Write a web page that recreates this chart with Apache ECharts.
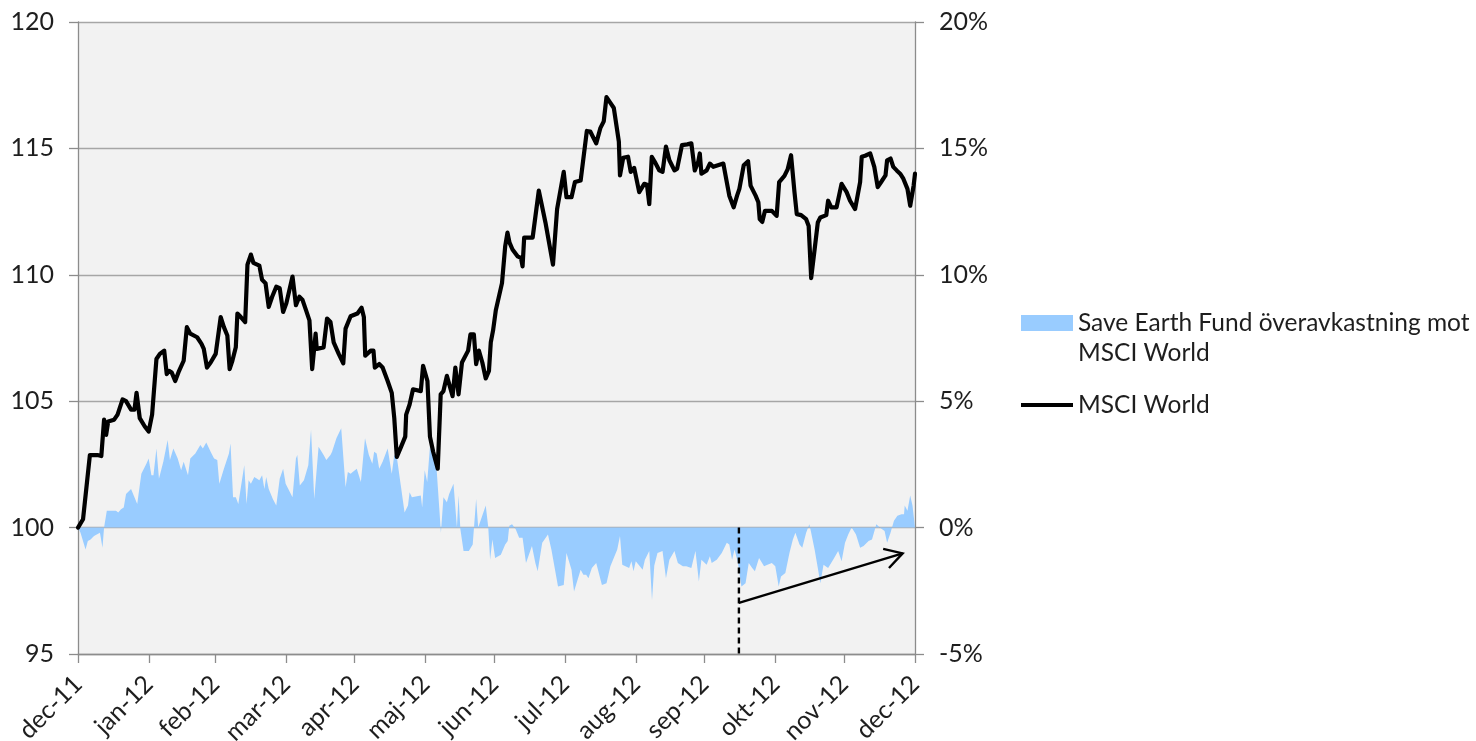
<!DOCTYPE html>
<html><head><meta charset="utf-8">
<script src="https://cdn.jsdelivr.net/npm/echarts@6/dist/echarts.min.js"></script>
<style>html,body{margin:0;padding:0;background:#fff}#c{width:1476px;height:741px}</style>
</head><body><div id="c"></div>
<script>
// x values are days counted from 2011-12-31
const startDate = '2011-12-31';
const tickDates = ['2011-12-31','2012-01-31','2012-02-29','2012-03-31','2012-04-30','2012-05-31','2012-06-30','2012-07-31','2012-08-31','2012-09-30','2012-10-31','2012-11-30','2012-12-31'];
const tickLabels = ['dec-11','jan-12','feb-12','mar-12','apr-12','maj-12','jun-12','jul-12','aug-12','sep-12','okt-12','nov-12','dec-12'];

const msciName = 'MSCI World';
const msciDay = [0,2.2,5.2,8.5,10.2,11.4,12.3,13.2,15.8,17.3,19.5,21.0,23.2,24.7,25.6,27.0,29.2,30.9,32.4,34.3,35.8,37.7,38.8,39.8,41.0,42.5,44.2,46.2,47.6,49.1,52.1,54.0,55.0,56.4,58.0,60.2,62.4,
63.8,65.3,66.3,67.5,69.0,69.7,71.2,73.1,74.1,75.6,76.7,79.3,80.5,82.0,83.4,84.9,86.7,88.2,89.7,91.1,93.8,95.3,96.8,98.2,99.7,101.2,102.4,103.9,104.4,107.4,108.9,110.4,111.8,114.0,116.0,117.0,119.2,122.2,124.0,125.0,125.6,
128.0,129.2,129.8,131.7,133.2,135.4,137.2,138.3,139.4,141.3,143.1,143.5,145.0,146.5,149.9,150.9,152.8,153.9,155.3,157.3,158.6,159.8,161.3,163.8,165.0,166.4,167.9,170.6,171.6,173.1,174.1,175.3,176.8,178.3,179.7,180.5,181.5,182.7,185.4,186.8,187.8,188.7,
190.0,192.2,193.7,194.4,195.1,198.8,201.5,204.4,207.7,209.5,212.4,213.6,215.8,217.3,219.8,222.5,224.0,226.6,228.4,229.9,231.1,232.8,234.3,236.5,237.0,238.4,240.5,241.7,243.2,245.4,247.6,248.8,249.8,250.9,252.2,
254.2,255.6,257.1,258.6,260.8,262.0,264.1,266.4,268.2,269.7,271.2,271.9,272.6,274.9,276.3,277.8,282.2,283.7,284.8,286.7,288.2,289.2,291.1,293.0,294.1,296.3,297.5,298.1,299.2,300.4,303.4,305.5,306.6,308.9,310.3,311.8,313.3,314.3,316.2,
318.4,319.5,320.6,322.1,323.5,324.6,327.2,328.0,328.7,329.4,331.7,333.9,334.6,336.1,337.6,339.8,342.0,342.7,344.2,346.4,348.2,349.7,351.2,353.1,353.8,355.3,356.5,358.0,359.5,360.9,362.7,363.9,365.4,366.0];
const msciValue = [100,100.33,102.87,102.87,102.83,104.27,103.67,104.2,104.27,104.47,105.07,105.0,104.67,104.67,105.33,104.33,104.0,103.8,104.47,106.67,106.87,107.0,106.07,106.2,106.13,105.8,106.2,106.6,107.93,107.67,107.53,107.27,107.07,106.33,106.53,106.87,108.33,
107.93,107.6,106.27,106.6,107.13,108.47,108.33,108.13,110.4,110.8,110.47,110.36,109.8,109.67,108.73,109.13,109.53,109.47,108.53,108.87,109.93,108.8,109.13,109.0,108.6,108.2,106.27,107.67,107.07,107.13,108.27,108.13,107.33,106.87,106.5,107.87,108.36,108.47,108.7,108.33,106.8,
107.0,107.0,106.33,106.47,106.33,105.8,105.33,104.33,102.8,103.2,103.6,104.47,104.87,105.47,105.4,106.4,105.8,103.6,103.0,102.33,105.27,105.4,106.0,105.2,106.33,105.27,106.53,107.0,107.64,107.64,106.47,107.0,106.53,105.9,106.2,107.33,107.8,108.6,109.67,111.13,111.67,111.27,
111.0,110.73,110.67,110.33,111.47,111.47,113.33,112.07,110.4,112.6,114.07,113.07,113.07,113.67,113.73,115.69,115.67,115.2,115.8,116.07,117.03,116.8,116.6,115.27,113.93,114.63,114.67,114.07,114.23,113.27,113.6,113.56,112.8,114.67,114.47,
114.13,114.07,115.07,114.53,114.13,114.2,115.13,115.16,115.2,114.13,114.47,114.8,114.0,114.13,114.4,114.27,114.4,113.67,113.13,112.67,113.13,113.4,114.33,114.49,113.53,113.13,112.87,112.2,112.09,112.53,112.53,112.33,113.67,113.91,114.17,114.73,113.27,112.4,112.36,
112.2,111.93,109.87,111.0,112.07,112.27,112.36,112.93,113.0,112.67,112.67,113.6,113.67,113.27,112.93,112.6,113.67,114.67,114.71,114.8,114.27,113.47,113.67,113.93,114.53,114.6,114.27,114.13,114.0,113.8,113.4,112.73,113.53,114.0];

const excessName = 'Save Earth Fund överavkastning mot\nMSCI World';
const excessDay = [0,1.1,3.3,4.3,5.5,7.0,9.6,10.7,11.4,12.6,13.6,16.6,17.6,18.8,20.0,21.0,23.2,24.0,25.9,27.7,29.9,30.9,32.1,33.0,34.3,35.4,37.3,39.2,40.2,41.7,43.6,45.1,46.2,48.1,49.1,51.3,53.5,54.6,56.1,58.0,59.5,60.9,61.8,
63.8,66.0,66.7,67.8,69.0,70.1,72.7,73.7,74.6,75.6,77.1,79.3,80.5,81.5,82.3,83.4,85.2,86.7,88.2,89.7,90.8,93.8,95.3,95.9,97.0,98.8,100.7,101.9,103.3,103.9,105.2,107.4,108.6,110.4,111.1,113.0,115.1,117.0,118.0,119.2,121.9,123.7,124.8,125.5,
127.2,128.7,129.5,130.6,131.7,133.2,135.4,137.2,138.3,139.5,142.8,144.3,145.0,146.0,149.9,150.5,151.6,152.7,153.9,156.8,157.8,158.7,159.8,161.3,162.3,164.2,165.7,166.4,167.2,168.6,170.9,172.6,174.1,175.0,176.5,178.3,179.4,180.2,181.2,182.4,184.9,186.8,187.9,188.6,189.8,
191.4,192.9,194.4,195.9,198.5,200.0,201.0,203.0,205.5,207.0,209.9,212.4,213.6,215.8,216.9,219.8,221.0,222.2,223.2,224.7,226.6,229.1,231.1,232.8,235.8,237.0,238.0,241.0,242.0,242.9,243.9,246.9,247.9,249.8,251.0,252.0,
253.4,255.6,257.1,258.6,260.8,262.3,264.5,266.0,268.2,270.0,271.5,272.6,274.9,276.3,277.1,279.3,281.5,283.7,284.8,286.0,287.1,288.6,290.1,291.9,293.3,294.8,296.0,297.8,300.0,301.5,303.4,304.9,306.4,307.4,309.3,311.1,312.6,313.7,314.3,315.5,316.7,
318.4,319.8,320.6,322.1,323.5,324.6,326.0,328.0,330.2,332.4,333.9,335.4,336.8,338.3,340.2,342.0,343.5,345.7,347.2,349.1,350.6,352.7,353.8,355.3,356.8,358.3,360.1,361.2,361.5,362.7,363.9,364.9,366.0];
const excessValue = [0,-0.2,-0.87,-0.53,-0.47,-0.33,-0.2,-0.8,0,0.67,0.67,0.67,0.6,0.73,0.8,1.33,1.53,1.6,0.93,2.13,2.53,2.73,2.07,2.07,3.13,1.93,2.6,3.47,2.67,3.13,2.73,2.27,2.6,2.07,2.73,2.93,3.27,3.13,3.37,3.0,2.73,2.67,1.73,
2.33,2.93,3.33,1.2,1.2,0.93,2.47,0.93,1.87,1.73,2.0,1.87,2.07,1.53,2.0,1.53,1.13,0.87,1.93,2.33,1.73,1.2,2.73,2.87,1.67,1.87,2.47,3.87,1.13,1.07,3.2,2.87,2.67,2.87,3.0,3.53,3.93,1.6,2.2,2.13,2.33,1.8,2.87,3.53,
2.87,2.53,3.0,2.93,2.33,2.6,3.13,2.13,2.87,2.73,0.6,0.87,1.4,1.2,1.27,0.8,2.27,1.8,3.2,2.33,1.0,-0.2,1.2,1.0,1.33,1.73,0,1.27,-0.07,-0.93,-0.93,-0.67,1.13,0,0.4,0.87,0,-1.27,-0.47,-1.2,-1.07,-0.67,-0.53,0.07,0.13,
-0.07,-0.4,-0.4,-1.4,-0.73,-1.4,-1.73,-0.6,-0.27,-0.87,-2.33,-2.27,-1.0,-1.67,-2.53,-1.67,-1.87,-1.87,-2.0,-1.6,-1.4,-2.27,-2.2,-1.53,-0.87,-0.33,-1.47,-1.6,-1.33,-1.73,-1.33,-1.67,-1.27,-0.93,-2.87,-1.5,
-1.0,-0.93,-2.0,-1.27,-0.93,-1.4,-1.53,-1.53,-1.6,-0.93,-2.13,-1.27,-1.47,-1.13,-1.4,-1.27,-1.0,-0.6,-0.67,-1.27,-0.87,-1.4,-2.33,-2.2,-1.4,-1.6,-1.73,-1.2,-1.53,-1.47,-1.4,-1.53,-2.33,-1.93,-1.8,-1.0,-0.47,-0.2,-0.27,-0.67,-0.8,
-0.2,0.13,-0.2,-0.87,-1.6,-2.2,-1.47,-1.6,-1.27,-0.93,-1.33,-0.6,-0.27,0,-0.27,-0.8,-0.73,-0.53,-0.47,0.13,0,-0.13,-0.6,-0.2,0.27,0.47,0.53,0.53,0.87,0.67,1.27,0.87,0];

// annotation: dashed marker line and trend arrow (day, left-axis value)
const markerDay = 289;
const arrowStart = [289, 97.02];
const arrowEnd = [360.6, 98.98];

const DAY = 86400000;
const toDay = d => (Date.parse(d) - Date.parse(startDate)) / DAY;
const tickDays = tickDates.map(toDay);
const pairs = (xs, ys) => xs.map((x, i) => [x, ys[i]]);

const FONT = 'Lato';
const TXT = '#1e1e1e';
const AXIS = '#8c8c8c';
const GRIDC = '#a6a6a6';
const TICKFS = 25;

const chart = echarts.init(document.getElementById('c'), null, {renderer: 'canvas'});
chart.setOption({
  animation: false,
  backgroundColor: '#ffffff',
  textStyle: {fontFamily: FONT},
  grid: {left: 78, right: 561, top: 22, bottom: 87, show: true, backgroundColor: '#f2f2f2', borderWidth: 0, containLabel: false, outerBoundsMode: 'none'},
  legend: {
    orient: 'vertical', left: 1016, top: 303, itemGap: 14,
    itemWidth: 52, itemHeight: 46,
    textStyle: {fontFamily: FONT, fontSize: 24.5, color: TXT, lineHeight: 30},
    data: [
      {name: excessName, icon: 'path://M0,0H52V16H0Z M0,45.99H0.01V46H0Z', itemStyle: {color: '#99ccff', borderWidth: 0}},
      {name: msciName, icon: 'path://M0,21H52V25H0Z M0,0H0.01V0.01H0Z M0,45.99H0.01V46H0Z', itemStyle: {color: '#000000', borderWidth: 0}}
    ]
  },
  xAxis: {
    type: 'value', min: 0, max: 366,
    axisLine: {show: true, onZero: false, lineStyle: {color: AXIS, width: 1.3}},
    axisTick: {show: true, length: 9, lineStyle: {color: AXIS, width: 1.3}, customValues: tickDays},
    axisLabel: {
      customValues: tickDays, rotate: 45, margin: 26, fontSize: TICKFS, color: TXT, fontFamily: FONT,
      formatter: v => { const i = tickDays.findIndex(t => Math.abs(t - v) < 0.01); return i >= 0 ? tickLabels[i] : ''; }
    },
    splitLine: {show: false}
  },
  yAxis: [
    {type: 'value', position: 'left', min: 95, max: 120, interval: 5,
     axisLine: {show: true, lineStyle: {color: AXIS, width: 1.3}},
     axisTick: {show: true, length: 9, lineStyle: {color: AXIS, width: 1.3}},
     axisLabel: {fontSize: TICKFS, color: TXT, margin: 24, fontFamily: FONT},
     splitLine: {show: true, lineStyle: {color: GRIDC, width: 1.3}}},
    {type: 'value', position: 'right', min: -5, max: 20, interval: 5,
     axisLine: {show: true, lineStyle: {color: AXIS, width: 1.3}},
     axisTick: {show: true, length: 9, lineStyle: {color: AXIS, width: 1.3}},
     axisLabel: {fontSize: TICKFS, color: TXT, margin: 24, fontFamily: FONT, formatter: '{value}%'},
     splitLine: {show: false}}
  ],
  series: [
    {name: excessName, type: 'line', yAxisIndex: 1, data: pairs(excessDay, excessValue),
     showSymbol: false, symbol: 'none', color: '#99ccff',
     lineStyle: {width: 0, color: '#99ccff'},
     areaStyle: {color: '#99ccff', opacity: 1, origin: 'auto'}, z: 2},
    {name: msciName, type: 'line', yAxisIndex: 0, data: pairs(msciDay, msciValue),
     showSymbol: false, symbol: 'none', color: '#000000',
     lineStyle: {width: 4.2, color: '#000000', join: 'round', cap: 'round'}, z: 3},
    {type: 'custom', yAxisIndex: 0, z: 4, silent: true,
     data: [[markerDay, arrowStart[0], arrowStart[1], arrowEnd[0], arrowEnd[1]]],
     encode: {x: [0, 1, 3], y: [2, 4]},
     renderItem: (params, api) => {
       const top = api.coord([api.value(0), 100]);
       const bot = api.coord([api.value(0), 95]);
       const a = api.coord([api.value(1), api.value(2)]);
       const b = api.coord([api.value(3), api.value(4)]);
       const dx = b[0] - a[0], dy = b[1] - a[1];
       const len = Math.hypot(dx, dy), ux = dx / len, uy = dy / len;
       const h = 20, ang = Math.PI / 6;
       const cs = Math.cos(ang), sn = Math.sin(ang);
       const p1 = [b[0] - h * (ux * cs - uy * sn), b[1] - h * (uy * cs + ux * sn)];
       const p2 = [b[0] - h * (ux * cs + uy * sn), b[1] - h * (uy * cs - ux * sn)];
       return {type: 'group', children: [
         {type: 'line', shape: {x1: top[0], y1: top[1], x2: bot[0], y2: bot[1]}, style: {stroke: '#000', lineWidth: 2.4, lineDash: [6, 4]}},
         {type: 'line', shape: {x1: a[0], y1: a[1], x2: b[0], y2: b[1]}, style: {stroke: '#000', lineWidth: 2.4}},
         {type: 'polyline', shape: {points: [p1, b, p2]}, style: {stroke: '#000', lineWidth: 2.4, fill: null}}
       ]};
     }}
  ]
});
</script></body></html>
